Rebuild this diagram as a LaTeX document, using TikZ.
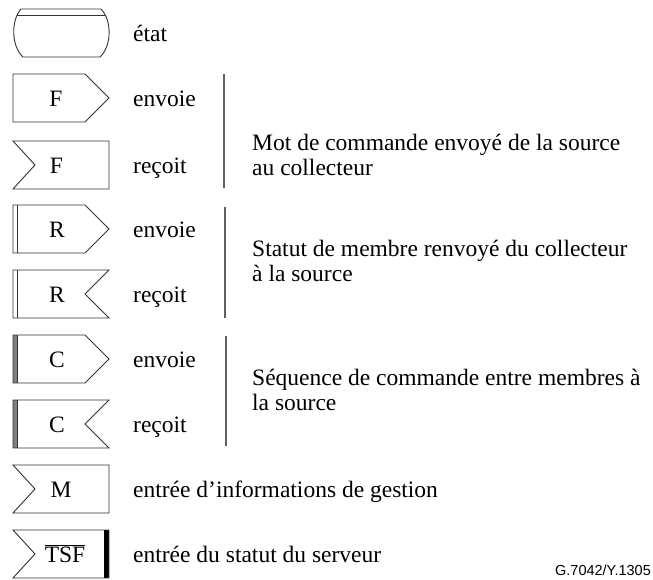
\documentclass[tikz,border=0pt]{standalone}
\usepackage{fontspec}
\setmainfont{Liberation Serif}
\newfontfamily\capfont{Liberation Sans}
\definecolor{lc}{HTML}{333333}
\definecolor{gc}{HTML}{606060}
\definecolor{barc}{HTML}{808080}
\begin{document}
\begin{tikzpicture}[x=1pt,y=-1pt,
  shp/.style={draw=lc, line width=0.9pt, line join=miter},
  txt/.style={inner sep=0pt, font=\fontsize{23.5}{25.5}\selectfont},
  sym/.style={txt, anchor=base},
  lbl/.style={txt, anchor=base west},
  desc/.style={txt, anchor=west, align=left},
  grp/.style={draw=gc, line width=1.1pt}]
\useasboundingbox (0,0) rectangle (653,580);
% state
\draw[shp] (21,9) -- (101,9) .. controls (112,20) and (112,46) .. (100,57) -- (23,57) .. controls (11,46) and (11,20) .. (21,9) -- cycle;
\begin{scope}
\clip (21,9) -- (101,9) .. controls (112,20) and (112,46) .. (100,57) -- (23,57) .. controls (11,46) and (11,20) .. (21,9) -- cycle;
\draw[shp] (0,15) -- (120,15);
\end{scope}
\node[lbl] (etat) at (133,41.5) {état};
% F send
\draw[shp] (13,74) -- (85,74) -- (109,98) -- (85,122) -- (13,122) -- cycle;
\node[sym] (fs) at (56,106.5) {F};
\node[lbl] (fse) at (133,106.5) {envoie};
% F receive
\draw[shp] (13,141) -- (109,141) -- (109,189) -- (13,189) -- (35,165) -- cycle;
\node[sym] (fr) at (56.5,173.5) {F};
\node[lbl] (frr) at (133,173.5) {reçoit};
\draw[grp] (224,74) -- (224,188);
\node[desc] (fd) at (252,155) {Mot de commande envoyé de la source\\au collecteur};
% R send
\draw[shp] (13,205) -- (85,205) -- (109,229) -- (85,253) -- (13,253) -- cycle;
\draw[shp] (17,205) -- (17,253);
\node[sym] (rs) at (57,237.5) {R};
\node[lbl] (rse) at (133,237.5) {envoie};
% R receive
\draw[shp] (13,270) -- (109,270) -- (85,294) -- (109,318) -- (13,318) -- cycle;
\draw[shp] (17,270) -- (17,318);
\node[sym] (rr) at (57,302.5) {R};
\node[lbl] (rrr) at (133,302.5) {reçoit};
\draw[grp] (225,207) -- (225,318);
\node[desc] (rd) at (252,261) {Statut de membre renvoyé du collecteur\\à la source};
% C send
\fill[barc] (13,335) rectangle (17,383);
\draw[shp] (13,335) -- (85,335) -- (109,359) -- (85,383) -- (13,383) -- cycle;
\draw[shp] (17,335) -- (17,383);
\node[sym] (cs) at (57,367.5) {C};
\node[lbl] (cse) at (133,367.5) {envoie};
% C receive
\fill[barc] (13,400) rectangle (17,448);
\draw[shp] (13,400) -- (109,400) -- (85,424) -- (109,448) -- (13,448) -- cycle;
\draw[shp] (17,400) -- (17,448);
\node[sym] (cr) at (57,432.5) {C};
\node[lbl] (crr) at (133,432.5) {reçoit};
\draw[grp] (226,336) -- (226,446);
\node[desc] (cd) at (252,390) {Séquence de commande entre membres à\\la source};
% M
\draw[shp] (13,465) -- (109,465) -- (109,513) -- (13,513) -- (35,489) -- cycle;
\node[sym] (m) at (61,497.5) {M};
\node[lbl] (md) at (133,497.5) {entrée d’informations de gestion};
% TSF
\fill[black] (104,530) rectangle (109,578);
\draw[shp] (13,530) -- (109,530) -- (109,578) -- (13,578) -- (35,554) -- cycle;
\node[sym] (tsf) at (65,562.5) {$\overline{\hbox{TSF}}$};
\node[lbl] (tsfd) at (133,562.5) {entrée du statut du serveur};
% caption
\node[inner sep=0pt, anchor=base east, font=\capfont\fontsize{14.5}{16}\selectfont] (cap) at (651,575) {G.7042/Y.1305};
\end{tikzpicture}
\end{document}
